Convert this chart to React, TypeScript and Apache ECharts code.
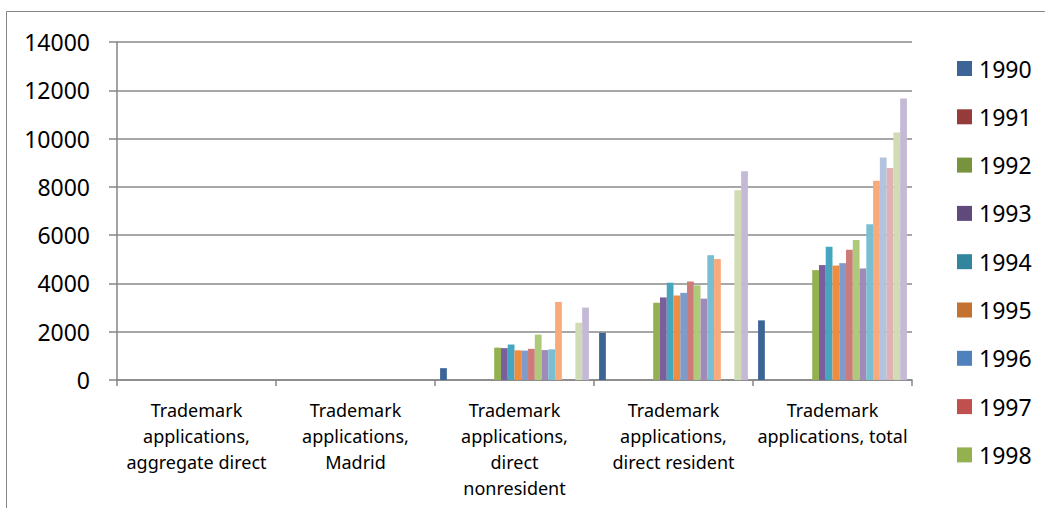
import React, { useEffect, useRef } from "react";
import * as echarts from "echarts";

const categories = [
  "Trademark\napplications,\naggregate direct",
  "Trademark\napplications,\nMadrid",
  "Trademark\napplications,\ndirect\nnonresident",
  "Trademark\napplications,\ndirect resident",
  "Trademark\napplications, total",
];

const years = [
  "1990", "1991", "1992", "1993", "1994", "1995", "1996", "1997", "1998", "1999", "2000",
  "2001", "2002", "2003", "2004", "2005", "2006", "2007", "2008", "2009", "2010", "2011",
];

const legendYears = ["1990", "1991", "1992", "1993", "1994", "1995", "1996", "1997", "1998"];

// values per year (index aligned with years)
const aggregateDirect = [
  null, null, null, null, null, null, null, null, null, null, null,
  null, null, null, null, null, null, null, null, null, null, null,
];
const madrid = [
  null, null, null, null, null, null, null, null, null, null, null,
  null, null, null, null, null, null, null, null, null, null, null,
];
const directNonresident = [
  490, null, null, null, null, null, null, null, 1340, 1320, 1470,
  1230, 1220, 1290, 1880, 1240, 1270, 3230, null, null, 2370, 3000,
];
const directResident = [
  1960, null, null, null, null, null, null, null, 3200, 3420, 4030,
  3500, 3610, 4080, 3920, 3370, 5170, 5010, null, null, 7860, 8650,
];
const total = [
  2470, null, null, null, null, null, null, null, 4550, 4760, 5520,
  4740, 4840, 5400, 5800, 4620, 6450, 8250, 9220, 8780, 10250, 11660,
];

const colors = [
  "#3C6497", "#953B39", "#77933C", "#604A7B", "#31859C", "#C3732F",
  "#4F81BD", "#C0504D", "#93B14F", "#7A5E9E", "#46A5BF", "#EE8C3F",
  "#7F9BC9", "#CD7B79", "#AFC97B", "#A08BB8", "#79BED2", "#F9AA7A",
  "#B3C3DF", "#DFB3B2", "#D0DCB4", "#C4BAD6",
];

const FONT = "'Noto Sans', sans-serif";

export default function App() {
  const ref = useRef<HTMLDivElement>(null);
  useEffect(() => {
    if (!ref.current) return;
    const chart = echarts.init(ref.current, undefined, { renderer: "svg" });
    const series = years.map((y, i) => ({
      name: y,
      type: "bar",
      barGap: "0%",
      barCategoryGap: "6.4%",
      itemStyle: { color: colors[i] },
      data: [aggregateDirect[i], madrid[i], directNonresident[i], directResident[i], total[i]],
    }));
    chart.setOption({
      animation: false,
      backgroundColor: "#ffffff",
      grid: { left: 117, right: 133, top: 42, bottom: 128, containLabel: false },
      legend: {
        data: legendYears,
        orient: "vertical",
        left: 957,
        top: 57,
        padding: 0,
        height: 1200,
        itemWidth: 15,
        itemHeight: 15,
        itemGap: 25.3,
        icon: "rect",
        selectedMode: false,
        textStyle: { fontFamily: FONT, fontSize: 23, lineHeight: 23, color: "#000", padding: [0, 0, 0, 2] },
      },
      xAxis: {
        type: "category",
        data: categories,
        axisLine: { show: true, lineStyle: { color: "#868686", width: 1.5 } },
        axisTick: { show: true, length: 6, alignWithLabel: false, lineStyle: { color: "#868686", width: 1.5 } },
        axisLabel: {
          interval: 0,
          margin: 17,
          fontFamily: FONT,
          fontSize: 18,
          lineHeight: 26,
          color: "#000",
        },
        splitLine: { show: false },
      },
      yAxis: {
        type: "value",
        min: 0,
        max: 14000,
        interval: 2000,
        axisLine: { show: true, lineStyle: { color: "#868686", width: 1.5 } },
        axisTick: { show: true, length: 8, lineStyle: { color: "#868686", width: 1.5 } },
        axisLabel: {
          margin: 27,
          fontFamily: FONT,
          fontSize: 23,
          color: "#000",
          formatter: (v: number) => String(v),
        },
        splitLine: { show: true, lineStyle: { color: "#8A8A8A", width: 1.5 } },
      },
      graphic: [
        {
          type: "rect",
          shape: { x: 6.5, y: 11.5, width: 1200, height: 700 },
          style: { fill: "none", stroke: "#868686", lineWidth: 1 },
          silent: true,
        },
      ],
      series,
    });
    return () => chart.dispose();
  }, []);
  return (
    <div
      ref={ref}
      style={{ position: "fixed", left: 0, top: 0, width: 1045, height: 508 }}
    />
  );
}
